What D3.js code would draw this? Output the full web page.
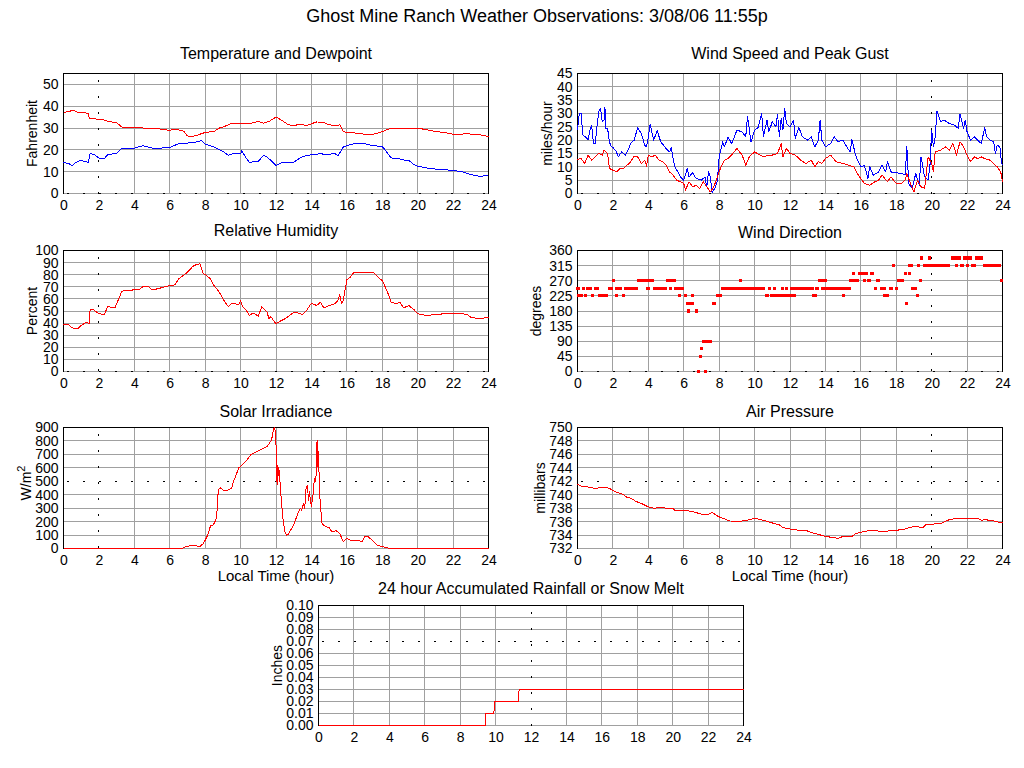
<!DOCTYPE html>
<html><head><meta charset="utf-8">
<script src="https://cdn.jsdelivr.net/npm/d3@7"></script>
<style>
body{margin:0;background:#fff;}
svg{display:block;}
text{font-family:"Liberation Sans",Arial,Helvetica,sans-serif;fill:#000;}
</style></head><body>
<svg id="c" width="1024" height="768"></svg>
<script>
// ---------------- DATA ----------------
const mainTitle = "Ghost Mine Ranch Weather Observations: 3/08/06 11:55p";
const xTicks = [0,2,4,6,8,10,12,14,16,18,20,22,24];
const tempTicks = [0,10,20,30,40,50];
const windTicks = [0,5,10,15,20,25,30,35,40,45];
const rhTicks = [0,10,20,30,40,50,60,70,80,90,100];
const dirTicks = [0,45,90,135,180,225,270,315,360];
const solarTicks = [0,100,200,300,400,500,600,700,800,900];
const pressTicks = [732,734,736,738,740,742,744,746,748,750];
const rainTicks = [0,0.01,0.02,0.03,0.04,0.05,0.06,0.07,0.08,0.09,0.10];

const temperature = [[0,37.2],[0.3,37.5],[0.55,38.3],[0.8,37.2],[1.4,36.8],[1.45,34.5],[2.0,34],[2.3,33.7],[2.5,33],[3.0,32.5],[3.3,30.4],[3.6,30.2],[4.0,30.4],[4.5,30],[5.0,30],[5.5,29.5],[6.0,28.9],[6.1,29.3],[6.5,29.2],[6.8,28.5],[7.0,26.4],[7.2,26.1],[7.5,26.6],[8.0,28],[8.5,28.4],[8.8,30],[9.0,30.4],[9.3,31.5],[9.5,32.2],[10.0,32.2],[10.5,32],[11.0,33],[11.3,32.2],[11.6,33],[12.0,35],[12.3,33.7],[12.7,31.5],[13.0,31.2],[13.5,31.8],[13.7,31],[14.0,32],[14.3,32.8],[14.7,32.5],[15.0,31.5],[15.5,31],[15.6,31.5],[15.8,28.4],[16.0,28],[16.5,27.7],[17.0,27.2],[17.5,27.2],[18.0,28.3],[18.5,30],[19.0,29.6],[19.5,29.6],[20.0,30],[20.5,29.2],[21.0,28.4],[21.5,28],[22.0,27.2],[22.5,27.2],[22.8,27.7],[23.0,27.2],[23.5,26.9],[24,26.1]];
const dewpoint = [[0,14.3],[0.3,13.7],[0.5,12.8],[0.7,14.3],[1.0,15.2],[1.2,14.7],[1.4,14.3],[1.5,18.2],[1.7,18],[2.0,16.3],[2.3,16],[2.5,17.8],[3.0,18.5],[3.3,20.8],[4.0,20.8],[4.5,21.9],[5.0,20.8],[5.5,20.8],[6.0,21.1],[6.5,22.8],[7.0,23.1],[7.5,23.6],[7.8,24.2],[8.0,22.6],[8.5,21.3],[9.0,19.3],[9.3,17.5],[9.5,18.1],[10.0,18.2],[10.07,19.6],[10.3,16.3],[10.5,14.3],[11.0,14.7],[11.3,17.5],[11.5,16.7],[11.7,15.2],[12.0,12.8],[12.3,14],[12.7,14],[13.0,14.3],[13.5,17],[14.0,17.8],[14.5,18.2],[15.0,17.8],[15.3,18.5],[15.5,17.3],[15.8,21.3],[16.0,21.9],[16.5,23.1],[17.0,22.8],[17.5,21.9],[18.0,21.6],[18.3,18.5],[18.5,16.3],[19.0,15.8],[19.3,15.2],[19.5,15.2],[19.8,13.2],[20.0,12.5],[20.5,11.7],[21.0,11.2],[21.5,10.9],[22.0,10.6],[22.5,10],[23.0,8.7],[23.5,7.9],[24,8.2]];

const windGust = [[0,23.75],[0.1,30],[0.2,30],[0.3,21.9],[0.5,21],[0.6,20],[0.7,23.8],[0.8,25.6],[0.9,18.8],[1.0,18.8],[1.1,25],[1.2,30.6],[1.3,31.9],[1.4,26.9],[1.5,27.5],[1.55,32.5],[1.6,24.4],[1.7,24.4],[1.8,19.4],[1.9,17.5],[2.0,17.3],[2.2,15.6],[2.3,13.75],[2.5,15.6],[2.7,14.4],[2.9,16.9],[3.0,18.75],[3.2,20],[3.4,24.75],[3.6,22.5],[3.8,18.1],[3.9,17.5],[4.0,21.25],[4.1,26],[4.3,20],[4.5,23.5],[4.7,19.4],[5.0,16.9],[5.2,15.6],[5.3,17.25],[5.4,13.1],[5.5,10],[5.7,7.75],[5.8,6.25],[6.0,5],[6.2,9.4],[6.3,6.25],[6.5,7.75],[6.7,5.6],[7.0,5],[7.2,6.25],[7.3,2.5],[7.4,8.1],[7.5,6.25],[7.6,0.25],[7.8,2.5],[7.9,5],[8.0,13.75],[8.2,19.4],[8.3,17.5],[8.5,21.25],[8.7,18.75],[8.9,21.9],[9.0,23.75],[9.3,23.1],[9.5,21.25],[9.6,28.75],[9.8,19.4],[10.0,23.75],[10.2,24.75],[10.4,30],[10.5,21.25],[10.7,27.5],[10.8,23.1],[11.0,26.9],[11.2,25],[11.3,29.75],[11.4,21.25],[11.5,28.1],[11.6,23.75],[11.7,31.9],[11.8,26.25],[12.0,25],[12.2,27.5],[12.3,20.6],[12.5,24.75],[12.7,21.25],[13.0,20],[13.2,21.25],[13.4,17.5],[13.6,20],[13.7,27.5],[13.8,20],[14.0,17.5],[14.3,18.75],[14.5,21.25],[14.7,19.4],[15.0,20],[15.2,17.5],[15.4,15.6],[15.5,20.25],[15.7,14.4],[15.9,11.25],[16.0,10],[16.2,10.6],[16.4,5.6],[16.5,10],[16.7,6.9],[17.0,8.1],[17.2,10.6],[17.4,8.1],[17.5,11.9],[17.7,8.1],[18.0,7.75],[18.3,7.5],[18.5,6.9],[18.6,17.5],[18.7,3.75],[18.9,1.9],[19.1,7.5],[19.3,3.1],[19.4,13.75],[19.6,6.25],[19.8,5],[19.9,10],[20.0,23.75],[20.1,17.5],[20.2,21.25],[20.3,31],[20.5,26.9],[20.7,27.5],[21.0,26.25],[21.3,25.6],[21.5,24.4],[21.6,29.75],[21.8,24.4],[21.9,27.5],[22.0,23.1],[22.2,20],[22.4,21.25],[22.6,20],[22.8,18.75],[23.0,24.75],[23.1,21.25],[23.3,20],[23.5,19.4],[23.6,15],[23.7,18.1],[23.85,17.5],[23.95,11.25],[24,10.6]];
const windSpeed = [[0,12.75],[0.2,13.1],[0.4,11.25],[0.6,14.4],[0.8,12.5],[1.0,13.75],[1.2,15],[1.4,14.4],[1.5,16.25],[1.7,15],[1.8,9.4],[2.0,8.75],[2.2,8.1],[2.4,9.4],[2.6,9.4],[2.8,10.6],[3.0,11.9],[3.2,14],[3.4,13.75],[3.6,11.25],[3.8,12.5],[3.9,10.25],[4.0,14.4],[4.2,13.75],[4.4,14.4],[4.6,12.5],[4.8,11.9],[5.0,10.6],[5.2,8.1],[5.4,6.9],[5.6,5],[5.8,4.4],[6.0,3.75],[6.1,1.25],[6.3,4.4],[6.5,2.5],[6.7,3.1],[6.9,1.9],[7.1,4.4],[7.3,2.5],[7.5,0.6],[7.7,2.5],[7.9,6.25],[8.1,10],[8.3,12.5],[8.5,13.1],[8.7,14.4],[9.0,16.9],[9.3,14.4],[9.5,10.6],[9.7,13.75],[10.0,15.6],[10.3,14.4],[10.5,13.75],[10.8,14.4],[11.0,14.4],[11.3,15],[11.5,18.75],[11.6,13.75],[11.8,16.9],[12.0,15],[12.3,14.4],[12.6,12.5],[12.9,11.25],[13.2,12.5],[13.4,10],[13.6,11.9],[13.8,11.25],[14.0,13.1],[14.3,14.4],[14.6,11.9],[15.0,11.25],[15.3,10.6],[15.6,10],[15.8,7.5],[16.0,5.6],[16.2,3.75],[16.5,3.1],[16.8,4.4],[17.0,5],[17.2,6.9],[17.5,4.4],[17.7,6.25],[18.0,3.75],[18.3,3.75],[18.5,5],[18.6,7.5],[18.8,3.75],[19.0,0.6],[19.2,5],[19.4,2.5],[19.6,1.9],[19.8,13.75],[20.0,11.25],[20.1,8.1],[20.2,15.6],[20.5,16.25],[20.8,17.5],[21.0,16.25],[21.2,18.75],[21.4,14.4],[21.6,19.4],[21.8,17.5],[22.0,14.4],[22.2,11.9],[22.4,13.75],[22.6,13.1],[22.8,13.75],[23.0,13.1],[23.3,12.5],[23.5,11.25],[23.7,10],[23.9,8.1],[24,4.4]];

const humidity = [[0,38.8],[0.3,38.5],[0.5,36],[0.8,35.3],[1.0,38],[1.3,40.8],[1.45,39.4],[1.5,51],[1.7,51],[2.0,47.7],[2.3,47.1],[2.5,53.7],[2.9,52.6],[3.0,55.9],[3.3,66.4],[3.6,66.9],[4.0,67.5],[4.3,67.8],[4.5,70.5],[4.8,70.2],[5.0,67.5],[5.3,68.3],[5.5,69.1],[6.0,71],[6.3,71.6],[6.5,76.6],[7.0,82],[7.3,86.8],[7.5,88.4],[7.7,89],[7.9,80.7],[8.0,80.2],[8.3,76.6],[8.5,71],[8.8,65.6],[9.0,60],[9.3,53.7],[9.5,56.5],[9.9,55.4],[10.0,58.7],[10.1,53.7],[10.3,51],[10.5,46.3],[10.7,48.5],[11.0,45.7],[11.2,53.7],[11.5,49],[11.6,43.5],[11.7,45.5],[12.0,39.4],[12.3,42.1],[12.5,43.5],[12.7,45.5],[13.0,49],[13.2,48.5],[13.5,47.1],[13.7,49.9],[14.0,56.5],[14.3,54.5],[14.5,57.3],[14.7,52.6],[15.0,54.5],[15.3,55.9],[15.5,58.7],[15.6,63.6],[15.7,55.9],[15.8,58.7],[16.0,75.8],[16.2,78],[16.4,82],[16.7,81.5],[17.0,82],[17.5,82],[17.8,77.4],[18.0,75.2],[18.3,65.6],[18.5,57.3],[18.8,55.9],[19.0,57.3],[19.2,52.6],[19.5,54.5],[19.8,51],[20.0,47.7],[20.5,46.3],[21.0,47.1],[21.5,47.7],[22.0,48.2],[22.5,47.7],[22.8,47.1],[23.0,44.9],[23.5,43.5],[24,44.9]];

// wind direction observations grouped in runs: [first hour, last hour, degrees]
const windDirRuns = [
 [0,0.05,247.5],[0.34,0.34,247.5],[0.59,0.75,247.5],[1.03,1.14,247.5],[1.78,1.93,247.5],[2.2,2.41,247.5],[2.73,3.31,247.5],[3.95,4.01,247.5],[4.37,4.95,247.5],[5.25,5.25,247.5],[5.56,5.95,247.5],[8.2,10.48,247.5],[10.86,10.86,247.5],[11.1,11.1,247.5],[11.55,11.55,247.5],[11.8,11.8,247.5],[12.06,13.27,247.5],[13.5,13.56,247.5],[13.82,15.37,247.5],[16.8,16.8,247.5],[17.14,17.35,247.5],[17.65,17.72,247.5],[17.99,17.99,247.5],[18.93,19.09,247.5],
 [0.08,0.2,225],[0.47,0.47,225],[0.85,0.85,225],[1.25,1.61,225],[2.2,2.2,225],[2.57,2.57,225],[5.76,5.76,225],[6.1,6.1,225],[6.5,6.5,225],[7.9,8.07,225],[10.65,10.75,225],[10.97,12.25,225],[13.33,13.42,225],[15.0,15.0,225],[17.31,17.5,225],[19.2,19.2,225],
 [2.05,2.05,270],[3.46,4.24,270],[5.08,5.48,270],[9.18,9.18,270],[13.67,13.99,270],[15.44,15.82,270],[16.2,16.2,270],[16.44,16.48,270],[16.95,17.01,270],[18.14,18.37,270],[19.35,19.35,270],[23.95,23.95,270],
 [6.22,6.5,202.5],[7.67,7.75,202.5],[18.58,18.58,202.5],
 [6.28,6.28,180],[6.7,6.7,180],
 [7.14,7.5,90],[7.0,7.0,67.5],[6.95,6.95,45],[6.83,6.83,0],[7.25,7.25,0],
 [15.6,15.6,292.5],[15.95,16.33,292.5],[16.58,16.65,292.5],[18.5,18.5,292.5],[18.75,18.75,292.5],
 [17.85,17.85,315],[18.73,18.86,315],[19.28,19.28,315],[19.58,20.97,315],[21.43,21.43,315],[21.7,21.76,315],[22.03,22.03,315],[22.29,22.42,315],[22.97,23.84,315],
 [19.42,19.42,337.5],[19.86,19.86,337.5],[21.16,21.57,337.5],[21.88,22.2,337.5],[22.55,22.8,337.5]
];

const solar = [[0,0],[6.7,0],[6.8,7],[7.0,17],[7.2,22],[7.5,20],[7.7,15],[7.9,37],[8.0,62],[8.1,87],[8.2,124],[8.3,167],[8.45,174],[8.6,211],[8.65,236],[8.7,360],[8.75,440],[8.85,452],[9.0,435],[9.3,435],[9.5,448],[9.6,497],[9.9,600],[10.0,609],[10.3,650],[10.6,700],[11.0,725],[11.5,758],[11.75,808],[11.85,880],[11.9,900],[11.97,870],[12.03,680],[12.06,472],[12.1,620],[12.13,540],[12.16,600],[12.2,545],[12.3,360],[12.4,211],[12.5,124],[12.6,100],[12.7,105],[12.8,130],[13.0,174],[13.2,249],[13.37,298],[13.45,286],[13.55,336],[13.62,298],[13.7,455],[13.78,472],[13.83,360],[13.88,423],[14.0,311],[14.08,385],[14.17,522],[14.25,497],[14.32,808],[14.36,609],[14.4,721],[14.45,460],[14.5,336],[14.6,186],[14.8,162],[15.0,157],[15.15,124],[15.4,132],[15.6,112],[15.8,50],[16.0,75],[16.2,62],[16.7,57],[16.85,50],[17.0,87],[17.2,87],[17.45,62],[17.7,25],[18.05,12],[18.25,5],[18.45,0],[24,0]];

const pressure = [[0,741.6],[0.2,741.3],[0.7,741.1],[1.0,740.95],[1.5,741.1],[1.8,740.95],[2.0,740.6],[2.3,740.3],[2.6,740],[2.8,739.6],[3.0,739.5],[3.3,739],[3.6,738.7],[4.0,738.2],[4.3,738],[4.8,738.1],[5.0,738],[5.4,738],[5.5,737.6],[6.0,737.7],[6.5,737.5],[7.0,737.1],[7.4,737.1],[7.6,737.4],[7.8,737],[8.0,736.7],[8.4,736.3],[8.6,736.1],[9.0,736],[9.6,736.2],[10.0,736.5],[10.5,736.2],[11.0,735.8],[11.4,735.5],[11.6,735.1],[12.0,734.9],[12.5,734.7],[13.0,734.6],[13.3,734.3],[13.6,734.1],[14.0,733.8],[14.5,733.6],[14.7,733.5],[15.0,733.8],[15.5,733.8],[15.7,734.2],[16.0,734.4],[16.5,734.7],[17.0,734.6],[17.5,734.6],[18.0,734.7],[18.5,734.9],[19.0,735.3],[19.5,735.1],[19.7,735.6],[20.0,735.6],[20.6,735.8],[21.0,736.3],[21.5,736.5],[22.0,736.5],[22.6,736.5],[22.8,736.2],[23.0,736.3],[23.5,736.1],[24,735.8]];

const rainfall = [[0,0],[9.42,0],[9.45,0.01],[9.9,0.01],[9.95,0.02],[11.28,0.02],[11.33,0.03],[24,0.03]];

// ---------------- DRAWING ----------------
const RED = "#ff0000", BLUE = "#0000ff", GRID = "#a0a0a0";
const svg = d3.select("#c");
svg.append("rect").attr("width",1024).attr("height",768).attr("fill","#fff");
svg.append("text").attr("x",537).attr("y",22).attr("text-anchor","middle")
  .style("font-size","18px").text(mainTitle);

const panels = [
 {left:63.5, top:73.5, w:425, h:120, dom:[0,55], ticks:tempTicks, title:"Temperature and Dewpoint", tb:59,
  ylab:"Fahrenheit", yx:37, dx:2, dy:0, lines:[[temperature,RED],[dewpoint,BLUE]]},
 {left:577.5, top:73.5, w:425, h:120, dom:[0,45], ticks:windTicks, title:"Wind Speed and Peak Gust", tb:59,
  ylab:"miles/hour", yx:552, dx:20, dy:0, lines:[[windGust,BLUE],[windSpeed,RED]]},
 {left:63.5, top:250.5, w:425, h:121, dom:[0,100], ticks:rhTicks, title:"Relative Humidity", tb:236,
  ylab:"Percent", yx:37, dx:2, dy:0, lines:[[humidity,RED]]},
 {left:577.5, top:250.5, w:425, h:121, dom:[0,360], ticks:dirTicks, title:"Wind Direction", tb:238,
  ylab:"degrees", yx:541, dx:20, dy:0, runs:windDirRuns},
 {left:63.5, top:427.5, w:425, h:121, dom:[0,900], ticks:solarTicks, title:"Solar Irradiance", tb:417,
  ylab:"W/m", sup:"2", yx:31, dx:2, dy:500, lines:[[solar,RED]], xlab:true},
 {left:577.5, top:427.5, w:425, h:121, dom:[732,750], ticks:pressTicks, title:"Air Pressure", tb:417,
  ylab:"millibars", yx:545, dx:20, dy:742, lines:[[pressure,RED]], xlab:true},
 {left:318.5, top:605.5, w:425, h:120, dom:[0,0.1], ticks:rainTicks, title:"24 hour Accumulated Rainfall or Snow Melt", tb:594,
  ylab:"Inches", yx:282, dx:12, dy:0.07, lines:[[rainfall,RED]], fmt:d3.format(".2f")}
];

panels.forEach(p => {
  const x = d3.scaleLinear().domain([0,24]).range([p.left, p.left+p.w]);
  const y = d3.scaleLinear().domain(p.dom).range([p.top+p.h, p.top]);
  const g = svg.append("g");
  const eq = (a,b) => Math.abs(a-b) < 1e-9;
  // grid
  g.append("g").selectAll("line").data(xTicks.filter(t => t>0 && t<24 && !eq(t,p.dx))).join("line")
    .attr("x1",d=>Math.round(x(d)-0.5)+0.5).attr("x2",d=>Math.round(x(d)-0.5)+0.5)
    .attr("y1",p.top).attr("y2",p.top+p.h)
    .attr("stroke",GRID).attr("shape-rendering","crispEdges");
  g.append("g").selectAll("line").data(p.ticks.filter(t => t<p.dom[1]-1e-9 && !(eq(t,p.dy) && t>p.dom[0]))).join("line")
    .attr("y1",d=>Math.round(y(d)-0.5)+0.5).attr("y2",d=>Math.round(y(d)-0.5)+0.5)
    .attr("x1",p.left).attr("x2",p.left+p.w)
    .attr("stroke",GRID).attr("shape-rendering","crispEdges");
  // dotted reference lines
  const xd = Math.round(x(p.dx)-0.5)+0.5, yd = Math.round(y(p.dy)-0.5)+0.5;
  g.append("line").attr("x1",xd).attr("x2",xd).attr("y1",p.top+6).attr("y2",p.top+p.h)
    .attr("stroke","#000").attr("stroke-width",1.5).attr("stroke-dasharray","2,14").attr("shape-rendering","crispEdges");
  g.append("line").attr("x1",p.left+3).attr("x2",p.left+p.w).attr("y1",yd).attr("y2",yd)
    .attr("stroke","#000").attr("stroke-width",1.5).attr("stroke-dasharray","2,14").attr("shape-rendering","crispEdges");
  // frame: top, left, right
  g.append("path").attr("d",`M${p.left},${p.top+p.h}V${p.top}H${p.left+p.w}V${p.top+p.h}`)
    .attr("fill","none").attr("stroke","#000").attr("shape-rendering","crispEdges");

  // series
  const line = d3.line().x(d=>x(d[0])).y(d=>y(d[1]));
  (p.lines||[]).forEach(([data,col]) => {
    g.append("path").datum(data).attr("d",line).attr("fill","none")
      .attr("stroke",col).attr("stroke-width",1).attr("stroke-linejoin","round")
      .attr("shape-rendering","crispEdges");
  });
  if (p.runs) {
    g.append("g").selectAll("rect").data(p.runs).join("rect")
      .attr("x",d=>x(d[0])-1.5).attr("width",d=>x(d[1])-x(d[0])+3)
      .attr("y",d=>y(d[2])-1.6).attr("height",3.2)
      .attr("fill",RED).attr("shape-rendering","crispEdges");
  }

  // axes
  const fmt = p.fmt || d3.format("d");
  const ay = g.append("g").attr("transform",`translate(${p.left},0)`)
    .call(d3.axisLeft(y).tickValues(p.ticks).tickSize(0).tickPadding(5).tickFormat(fmt));
  ay.select(".domain").remove();
  ay.attr("font-size",14).attr("font-family",null);
  const ax = g.append("g").attr("transform",`translate(0,${p.top+p.h})`)
    .call(d3.axisBottom(x).tickValues(xTicks).tickSize(0).tickPadding(7).tickFormat(d3.format("d")));
  ax.select(".domain").remove();
  ax.attr("font-size",14).attr("font-family",null);
  g.selectAll(".tick text").attr("fill","#000");

  // titles
  g.append("text").attr("x",p.left+p.w/2).attr("y",p.tb).attr("text-anchor","middle")
    .style("font-size","16px").text(p.title);
  const yl = g.append("text").attr("transform",`translate(${p.yx},${p.top+p.h/2}) rotate(-90)`)
    .attr("text-anchor","middle").style("font-size","14px").text(p.ylab);
  if (p.sup) {
    yl.attr("transform",`translate(${p.yx},${p.top+p.h/2-5}) rotate(-90)`);
    yl.append("tspan").attr("dy","-6").style("font-size","11px").text(p.sup);
  }
  if (p.xlab) {
    g.append("text").attr("x",p.left+p.w/2).attr("y",p.top+p.h+32).attr("text-anchor","middle")
      .style("font-size","15px").text("Local Time (hour)");
  }
});
</script>
</body></html>
